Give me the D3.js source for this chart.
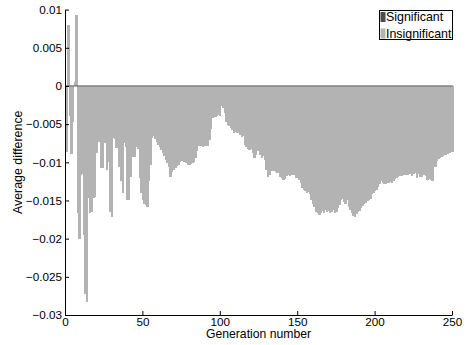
<!DOCTYPE html>
<html>
<head>
<meta charset="utf-8">
<script src="https://cdn.jsdelivr.net/npm/d3@7"></script>
<style>
  html, body { margin: 0; padding: 0; background: #fff; }
  svg { display: block; font-family: "Liberation Sans", Arial, Helvetica, sans-serif; }
</style>
</head>
<body>
<svg id="chart" width="467" height="345"></svg>
<script>
// ---------------- data ----------------
const generations = d3.range(1, 251);

const insignificant = [
  -0.0086, 0.0080, -0.0040, -0.0089, -0.0047, 0.0005, 0.0093, -0.0167, -0.0201, -0.0116,
  -0.0115, -0.0195, -0.0272, -0.0283, -0.0147, -0.0167, -0.0165, -0.0147, -0.0145, -0.0088,
  -0.0073, -0.0073, -0.0108, -0.0108, -0.0064, -0.0075, -0.0110, -0.0100, -0.0165, -0.0171,
  -0.0068, -0.0070, -0.0081, -0.0077, -0.0106, -0.0125, -0.0140, -0.0075, -0.0080, -0.0149,
  -0.0149, -0.0119, -0.0067, -0.0093, -0.0093, -0.0080, -0.0082, -0.0120, -0.0140, -0.0150,
  -0.0154, -0.0156, -0.0158, -0.0125, -0.0103, -0.0068, -0.0066, -0.0070, -0.0074, -0.0077,
  -0.0080, -0.0084, -0.0088, -0.0092, -0.0097, -0.0101, -0.0106, -0.0119, -0.0113, -0.0110,
  -0.0108, -0.0105, -0.0103, -0.0100, -0.0098, -0.0097, -0.0099, -0.0101, -0.0103, -0.0104,
  -0.0102, -0.0101, -0.0100, -0.0094, -0.0085, -0.0078, -0.0077, -0.0079, -0.0080, -0.0079,
  -0.0078, -0.0078, -0.0071, -0.0057, -0.0042, -0.0040, -0.0041, -0.0039, -0.0038, -0.0040,
  -0.0026, -0.0029, -0.0035, -0.0047, -0.0051, -0.0053, -0.0055, -0.0058, -0.0061, -0.0060,
  -0.0062, -0.0061, -0.0064, -0.0067, -0.0066, -0.0077, -0.0080, -0.0082, -0.0084, -0.0083,
  -0.0088, -0.0094, -0.0090, -0.0085, -0.0083, -0.0090, -0.0095, -0.0092, -0.0097, -0.0110,
  -0.0119, -0.0116, -0.0112, -0.0110, -0.0111, -0.0113, -0.0114, -0.0113, -0.0119, -0.0121,
  -0.0123, -0.0122, -0.0118, -0.0117, -0.0118, -0.0116, -0.0116, -0.0117, -0.0120, -0.0121,
  -0.0123, -0.0127, -0.0134, -0.0136, -0.0138, -0.0140, -0.0139, -0.0141, -0.0150, -0.0154,
  -0.0158, -0.0165, -0.0167, -0.0169, -0.0166, -0.0164, -0.0166, -0.0163, -0.0165, -0.0164,
  -0.0166, -0.0165, -0.0163, -0.0166, -0.0165, -0.0160, -0.0156, -0.0150, -0.0148, -0.0152,
  -0.0155, -0.0150, -0.0158, -0.0162, -0.0167, -0.0170, -0.0171, -0.0168, -0.0165, -0.0164,
  -0.0160, -0.0157, -0.0155, -0.0153, -0.0151, -0.0150, -0.0148, -0.0142, -0.0140, -0.0137,
  -0.0136, -0.0132, -0.0128, -0.0125, -0.0127, -0.0128, -0.0128, -0.0127, -0.0127, -0.0126,
  -0.0127, -0.0124, -0.0122, -0.0120, -0.0119, -0.0118, -0.0118, -0.0117, -0.0116, -0.0116,
  -0.0117, -0.0115, -0.0115, -0.0118, -0.0115, -0.0114, -0.0120, -0.0115, -0.0119, -0.0119,
  -0.0117, -0.0116, -0.0118, -0.0123, -0.0122, -0.0123, -0.0124, -0.0106, -0.0106, -0.0098,
  -0.0096, -0.0095, -0.0093, -0.0092, -0.0091, -0.0090, -0.0089, -0.0088, -0.0087, -0.0087
];

const xTicks = [0, 50, 100, 150, 200, 250];
const xTickLabels = ["0", "50", "100", "150", "200", "250"];
const yTicks = [0.01, 0.005, 0, -0.005, -0.01, -0.015, -0.02, -0.025, -0.03];
const yTickLabels = ["0.01", "0.005", "0", "\u22120.005", "\u22120.01", "\u22120.015", "\u22120.02", "\u22120.025", "\u22120.03"];
const legendLabels = ["Significant", "Insignificant"];
const xTitle = "Generation number";
const yTitle = "Average difference";

// ---------------- layout ----------------
const svg = d3.select("#chart");
const L = 65, R = 452, T = 9.6, B = 315;
const colSig = "#4d4d4d", colIns = "#b3b3b3";

const x = d3.scaleLinear().domain([0, 250]).range([L, R]);
const y = d3.scaleLinear().domain([-0.03, 0.01]).range([B, T]);

// bars
svg.append("g").attr("shape-rendering", "crispEdges").selectAll("rect")
  .data(generations.map((g, i) => ({ g, v: insignificant[i] })))
  .join("rect")
  .attr("x", d => x(d.g - 0.5))
  .attr("width", d => x(d.g + 0.5) - x(d.g - 0.5) + 0.9)
  .attr("y", d => y(Math.max(0, d.v)))
  .attr("height", d => Math.abs(y(d.v) - y(0)))
  .attr("fill", colIns);

// baseline (significant colour)
svg.append("line")
  .attr("x1", x(0.5)).attr("x2", x(250.5))
  .attr("y1", y(0)).attr("y2", y(0))
  .attr("stroke", "#5a5a5a").attr("stroke-width", 1);

// axes
const yAxis = d3.axisLeft(y)
  .tickValues(yTicks)
  .tickFormat((d, i) => yTickLabels[i])
  .tickSizeInner(-4).tickSizeOuter(0).tickPadding(3);
const gy = svg.append("g").attr("transform", `translate(${L},0)`).call(yAxis);

const xAxis = d3.axisBottom(x)
  .tickValues(xTicks)
  .tickFormat((d, i) => xTickLabels[i])
  .tickSizeInner(-4).tickSizeOuter(0).tickPadding(2.5);
const gx = svg.append("g").attr("transform", `translate(0,${B})`).call(xAxis);

[gx, gy].forEach(g => {
  g.attr("font-family", null).attr("font-size", null);
  g.selectAll("text").attr("font-size", 11.7).attr("fill", "#000");
  g.selectAll("line").attr("stroke", "#000");
  g.select(".domain").attr("stroke", "#000");
});

// titles
svg.append("text")
  .attr("x", (L + R) / 2).attr("y", 337.5)
  .attr("text-anchor", "middle").attr("font-size", 12.2)
  .text(xTitle);

svg.append("text")
  .attr("transform", `translate(21.5,${(T + B) / 2}) rotate(-90)`)
  .attr("text-anchor", "middle").attr("font-size", 12.4)
  .text(yTitle);

// legend
const lg = svg.append("g");
lg.append("rect")
  .attr("x", 379.5).attr("y", 10.5).attr("width", 73).attr("height", 29)
  .attr("fill", "#fff").attr("stroke", "#000").attr("stroke-width", 1);
const legendColors = [colSig, colIns];
legendLabels.forEach((lab, i) => {
  lg.append("rect")
    .attr("x", 380.5).attr("y", 12 + i * 16.5).attr("width", 5).attr("height", 10)
    .attr("fill", legendColors[i]);
  lg.append("text")
    .attr("x", 386).attr("y", 17 + i * 16.5)
    .attr("dy", "0.35em")
    .attr("font-size", 12.4)
    .text(lab);
});
</script>
</body>
</html>
